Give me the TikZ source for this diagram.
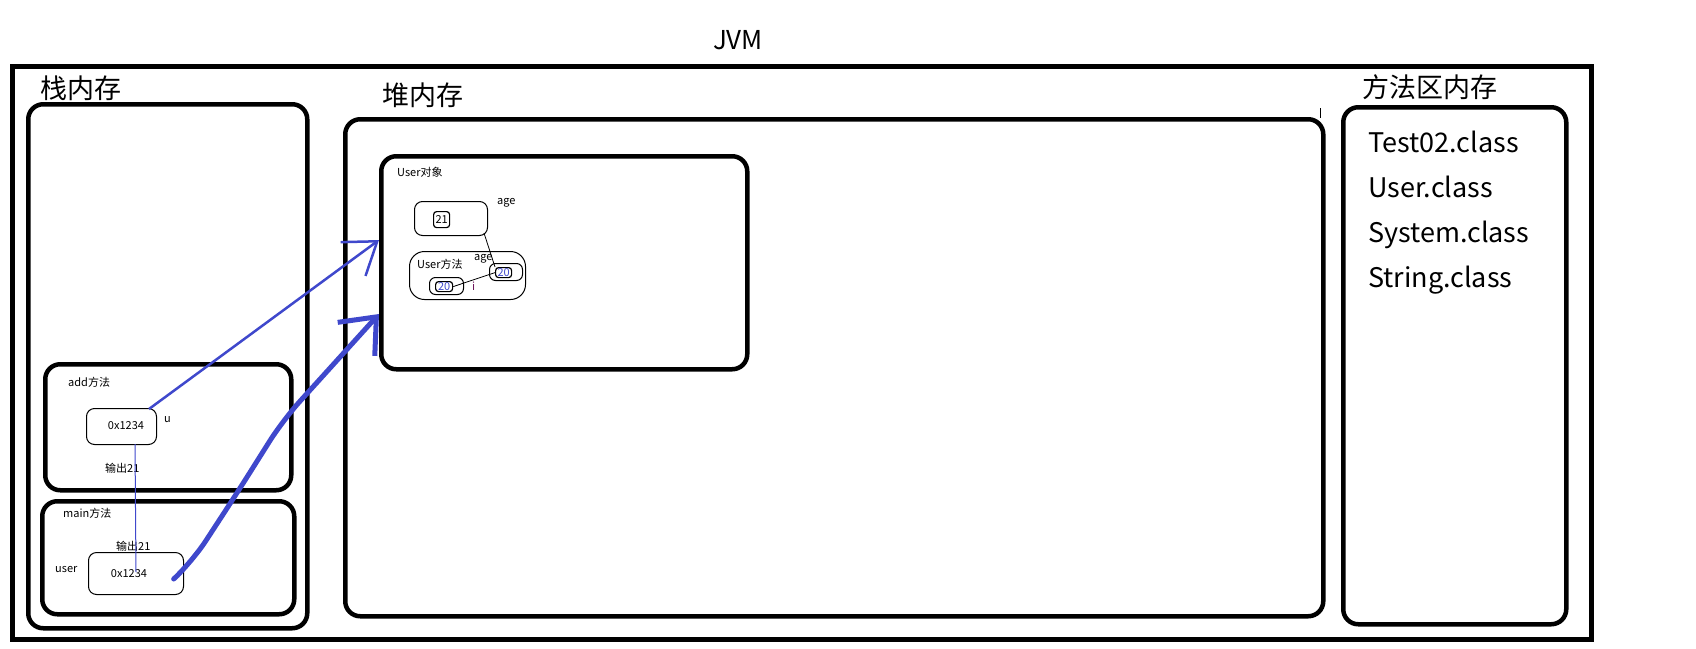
\documentclass[tikz,border=0pt]{standalone}
\usepackage{fontspec}
\usepackage{tikz}
\usetikzlibrary{arrows.meta}
\setmainfont{Noto Sans CJK SC}

\definecolor{refblue}{RGB}{63,72,204}
\definecolor{varpurple}{RGB}{110,20,90}

\tikzset{
  frame/.style={draw, line width=4.5pt, rounded corners=15pt, inner sep=0pt, anchor=north west},
  refbox/.style={draw, line width=1pt, rounded corners=8pt, inner sep=0pt, anchor=north west},
  numbox/.style={draw, line width=1.2pt, rounded corners=3pt, inner sep=0pt, anchor=north west, font=\fontsize{11}{12}\selectfont},
  big/.style={font=\fontsize{27}{30}\selectfont, anchor=west, inner sep=0pt},
  small/.style={font=\fontsize{11}{13}\selectfont, anchor=west, inner sep=0pt},
}

\begin{document}
\begin{tikzpicture}[x=1pt,y=-1pt]
    \useasboundingbox (0,0) rectangle (1696,648);
    % JVM
    \node[draw, line width=5pt, inner sep=0pt, anchor=north west, minimum width=1579pt, minimum height=573pt] (jvm) at (10,64) {};
    \node[font=\fontsize{26}{30}\selectfont] (jvmlabel) at (738,40) {JVM};
    % stack
    \node[frame, minimum width=279pt, minimum height=524pt] (stack) at (26,102) {};
    \node[big] (stacklabel) at (40,88) {栈内存};
    \node[frame, minimum width=246pt, minimum height=126pt] (addframe) at (43,362) {};
    \node[small] (addlabel) at (68,382) {add方法};
    \node[refbox, minimum width=70pt, minimum height=36pt] (addref) at (86,408) {};
    \node[small, anchor=center] (addval) at (126,426) {0x1234};
    \node[small] (ulabel) at (164,420) {u};
    \node[small] (addout) at (105,468) {输出21};
    \node[frame, minimum width=252pt, minimum height=113pt] (mainframe) at (40,499) {};
    \node[small] (mainlabel) at (63,513) {main方法};
    \node[small] (mainout) at (116,546) {输出21};
    \node[small] (userlabel) at (55,569) {user};
    \node[refbox, minimum width=95pt, minimum height=42pt] (mainref) at (88,552) {};
    \node[small, anchor=center] (mainval) at (129,574) {0x1234};
    % heap
    \node[frame, minimum width=978pt, minimum height=497pt] (heap) at (343,117) {};
    \node[big] (heaplabel) at (382,95) {堆内存};
    \draw[line width=1pt] (1320,108) -- (1320,118);
    \node[frame, minimum width=366pt, minimum height=213pt] (userobj) at (379,154) {};
    \node[small] (objlabel) at (397,172) {User对象};
    \node[refbox, minimum width=73pt, minimum height=34pt] (agebox) at (414,201) {};
    \node[numbox, minimum width=16pt, minimum height=16pt] (agenum) at (433,211) {21};
    \node[small] (agelabel) at (497,203) {age};
    \node[refbox, rounded corners=15pt, minimum width=116pt, minimum height=48pt] (ctor) at (409,251) {};
    \node[small] (ctorlabel) at (417,264) {User方法};
    \node[small] (cagelabel) at (474,259) {age};
    \node[refbox, rounded corners=6pt, minimum width=33pt, minimum height=17pt] (rbox) at (489,263) {};
    \node[numbox, text=refblue, minimum width=16pt, minimum height=10pt] (rnum) at (495,267) {20};
    \node[refbox, rounded corners=6pt, minimum width=34pt, minimum height=17pt] (lbox) at (429,277) {};
    \node[numbox, text=refblue, minimum width=17pt, minimum height=10pt] (lnum) at (435,281) {20};
    \node[small, text=varpurple] (ilabel) at (472,286) {i};
    \draw[line width=0.8pt] (agebox.south east) ++(-4,-3) -- (rnum.north west);
    \draw[line width=0.8pt] (lnum.east) -- (rnum.west);
    % method area
    \node[frame, minimum width=223pt, minimum height=517pt] (method) at (1341,105) {};
    \node[big] (methodlabel) at (1362,87) {方法区内存};
    \node[big, anchor=base west] (cls1) at (1368,152) {Test02.class};
    \node[big, anchor=base west] (cls2) at (1368,197) {User.class};
    \node[big, anchor=base west] (cls3) at (1368,242) {System.class};
    \node[big, anchor=base west] (cls4) at (1368,287) {String.class};
    % references
    \coordinate (outtop) at (135,444);
    \coordinate (outbot) at (136,572);
    \draw[refblue, line width=1pt] (outtop) -- (outbot);
    \coordinate (uref) at (149,409);
    \coordinate (utip) at (379,240);
    \draw[refblue, line width=2.5pt, -{Straight Barb[length=30pt, width=42pt]}] (uref) -- (utip);
    \coordinate (userref) at (178,575);
    \coordinate (usertip) at (379,314);
    \draw[refblue, line width=5pt, line join=round, line cap=round, rounded corners=25pt, -{Straight Barb[length=30pt, width=50pt]}]
        (userref) -- (192,562) -- (237,493) -- (283,420) -- (usertip);
\end{tikzpicture}
\end{document}
